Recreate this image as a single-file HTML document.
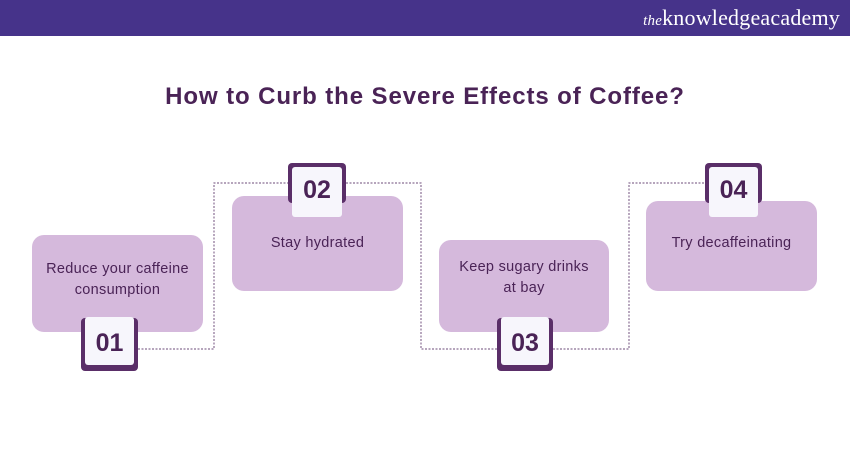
<!DOCTYPE html>
<html><head><style>
body{margin:0;width:850px;height:450px;background:#fff;position:relative;overflow:hidden;font-family:"Liberation Sans",sans-serif}
.hdr{position:absolute;left:0;top:0;width:850px;height:36px;background:#46338a}
.logo{position:absolute;right:10px;top:5px;color:#fff;font-family:"Liberation Serif",serif;font-size:22px;letter-spacing:0.2px}
.logo i{font-size:15px}
h1{position:absolute;top:83px;left:0;width:850px;text-align:center;margin:0;font-size:24px;letter-spacing:0.9px;color:#4a2356;font-weight:bold}
.card{position:absolute;background:#d5b9dc;border-radius:12px;color:#4a2356;font-size:14.5px;letter-spacing:0.3px;text-align:center;line-height:21px;display:flex;align-items:center;justify-content:center}
.dk{position:absolute;background:#5a2e68;border-radius:4px}
.lt{position:absolute;background:#f7f6fc;border-radius:3px;color:#4a2356;font-weight:bold;font-size:25px;display:flex;align-items:center;justify-content:center}
svg{position:absolute;left:0;top:0}
</style></head><body>
<div class="hdr"><div class="logo"><i>the</i>knowledgeacademy</div></div>
<h1>How to Curb the Severe Effects of Coffee?</h1>
<svg width="850" height="450"><g fill="none" stroke="#8a6f94" stroke-width="1.2" stroke-dasharray="2,1.5">
<polyline points="138,349 214,349 214,183 288,183"/>
<polyline points="346,183 421,183 421,349 497,349"/>
<polyline points="553,349 629,349 629,183 705,183"/>
</g></svg>
<div class="card" style="left:32px;top:235px;width:171px;height:97px;padding-bottom:8px;box-sizing:border-box">Reduce your caffeine<br>consumption</div>
<div class="card" style="left:232px;top:196px;width:171px;height:95px;align-items:flex-start;padding-top:37px;box-sizing:border-box">Stay hydrated</div>
<div class="card" style="left:439px;top:240px;width:170px;height:92px;padding-bottom:16px;box-sizing:border-box">Keep sugary drinks<br>at bay</div>
<div class="card" style="left:646px;top:201px;width:171px;height:90px;align-items:flex-start;padding-top:32px;box-sizing:border-box">Try decaffeinating</div>
<div class="dk" style="left:81px;top:318px;width:57px;height:53px"></div>
<div class="lt" style="left:85px;top:317px;width:49px;height:48px;padding-top:4px;box-sizing:border-box">01</div>
<div class="dk" style="left:288px;top:163px;width:58px;height:40px"></div>
<div class="lt" style="left:292px;top:167px;width:50px;height:50px;padding-bottom:4px;box-sizing:border-box">02</div>
<div class="dk" style="left:497px;top:318px;width:56px;height:53px"></div>
<div class="lt" style="left:501px;top:317px;width:48px;height:48px;padding-top:4px;box-sizing:border-box">03</div>
<div class="dk" style="left:705px;top:163px;width:57px;height:40px"></div>
<div class="lt" style="left:709px;top:167px;width:49px;height:50px;padding-bottom:4px;box-sizing:border-box">04</div>
</body></html>
